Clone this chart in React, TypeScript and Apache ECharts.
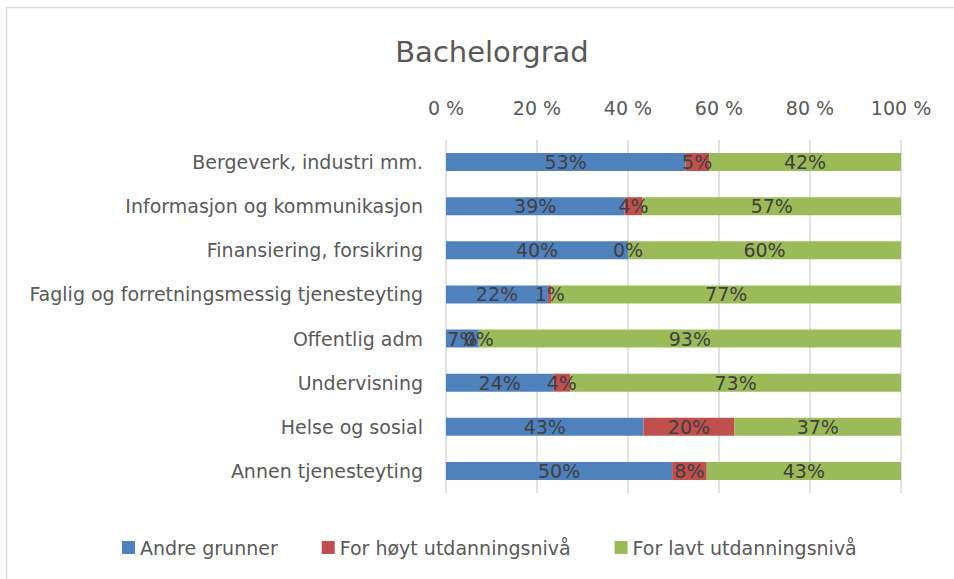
import React, { useEffect, useRef } from "react";
import * as echarts from "echarts";

const categories = [
  "Bergeverk, industri mm.",
  "Informasjon og kommunikasjon",
  "Finansiering, forsikring",
  "Faglig og forretningsmessig tjenesteyting",
  "Offentlig adm",
  "Undervisning",
  "Helse og sosial",
  "Annen tjenesteyting",
];
const andreGrunner = [52.6, 39.2, 40.0, 22.4, 7.2, 23.6, 43.4, 49.7];
const forHoyt = [5.2, 4.0, 0.0, 0.8, 0.0, 3.7, 20.0, 7.6];
const forLavt = [42.2, 56.8, 60.0, 76.8, 92.8, 72.7, 36.6, 42.7];
const ticks = [0, 20, 40, 60, 80, 100];

const FONT = "'DejaVu Sans', 'Open Sans', sans-serif";

export default function App() {
  const ref = useRef<HTMLDivElement>(null);
  useEffect(() => {
    if (!ref.current) return;
    const chart = echarts.init(ref.current, undefined, { renderer: "svg" });
    const label = {
      show: true,
      position: "inside" as const,
      color: "#404040",
      fontSize: 19,
      fontFamily: FONT,
      formatter: (p: any) => Math.round(p.value) + "%",
    };
    const mk = (name: string, data: number[], color: string) => ({
      name,
      type: "bar",
      stack: "s",
      data,
      barWidth: 18,
      itemStyle: { color },
      label,
      emphasis: { disabled: true },
    });
    chart.setOption({
      animation: false,
      textStyle: { fontFamily: FONT },
      graphic: [
        {
          type: "rect",
          shape: { x: 6.5, y: 7.5, width: 1000, height: 700 },
          style: { fill: "none", stroke: "#D9D9D9", lineWidth: 1.5 },
          silent: true,
          z: -10,
        },
      ],
      title: {
        text: "Bachelorgrad",
        left: 487,
        top: 32,
        textAlign: "center",
        textStyle: { fontSize: 29, fontWeight: "normal", color: "#595959", fontFamily: FONT },
      },
      legend: {
        left: 117,
        top: 533,
        icon: "rect",
        itemWidth: 13,
        itemHeight: 13,
        itemGap: 44,
        textStyle: { fontSize: 19, color: "#595959", fontFamily: FONT },
        data: ["Andre grunner", "For høyt utdanningsnivå", "For lavt utdanningsnivå"],
      },
      grid: { left: 446, right: 954 - 901, top: 140, height: 353, containLabel: false },
      xAxis: {
        type: "value",
        position: "top",
        min: ticks[0],
        max: ticks[ticks.length - 1],
        interval: 20,
        axisLine: { show: false },
        axisTick: { show: false },
        axisLabel: { formatter: "{value} %", color: "#595959", fontSize: 19, margin: 23, fontFamily: FONT },
        splitLine: { lineStyle: { color: "#D9D9D9", width: 1.5 } },
      },
      yAxis: {
        type: "category",
        inverse: true,
        data: categories,
        axisLine: { show: false },
        axisTick: { show: false },
        axisLabel: { color: "#595959", fontSize: 19, margin: 23, fontFamily: FONT },
      },
      series: [
        mk("Andre grunner", andreGrunner, "#4F81BD"),
        mk("For høyt utdanningsnivå", forHoyt, "#C0504D"),
        mk("For lavt utdanningsnivå", forLavt, "#9BBB59"),
      ],
    });
    return () => chart.dispose();
  }, []);
  return (
    <div
      ref={ref}
      style={{ position: "fixed", left: 0, top: 0, width: 954, height: 579, background: "#fff" }}
    />
  );
}
